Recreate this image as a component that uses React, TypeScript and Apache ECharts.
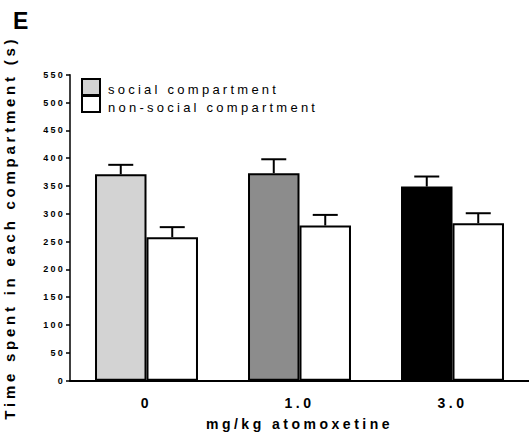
import React, { useEffect, useRef } from "react";
import * as echarts from "echarts";

const categories = ["0", "1.0", "3.0"];
const socialMeans = [371, 373, 349];
const socialSem = [17, 25, 18];
const nonSocialMeans = [258, 279, 283];
const nonSocialSem = [18, 19, 18];
const socialColors = ["#d3d3d3", "#8c8c8c", "#000000"];
const yMin = 0;
const yMax = 550;
const yInterval = 50;

const FONT = "'Liberation Sans', Arial, sans-serif";
const GAP_FRAC = 0.327;
const OFF = (1 - GAP_FRAC) / 4;

function errorSeries(name: string, means: number[], sems: number[], sign: number) {
  return {
    type: "custom",
    name,
    z: 5,
    encode: { x: 0, y: 1 },
    data: means.map((m, i) => [i, m, sems[i]]),
    renderItem: (_params: any, api: any) => {
      const idx = api.value(0);
      const mean = api.value(1);
      const sem = api.value(2);
      const band = api.size([1, 0])[0];
      const base = api.coord([idx, mean]);
      const top = api.coord([idx, mean + sem]);
      const x = base[0] + sign * band * OFF;
      return {
        type: "group",
        children: [
          { type: "line", shape: { x1: x, y1: base[1], x2: x, y2: top[1] }, style: { stroke: "#000", lineWidth: 2 } },
          { type: "line", shape: { x1: x - 12.5, y1: top[1], x2: x + 12.5, y2: top[1] }, style: { stroke: "#000", lineWidth: 2 } },
        ],
      };
    },
  };
}

export default function App() {
  const ref = useRef<HTMLDivElement>(null);
  useEffect(() => {
    if (!ref.current) return;
    const chart = echarts.init(ref.current, undefined, { renderer: "svg" });
    chart.setOption({
      animation: false,
      backgroundColor: "#ffffff",
      textStyle: { fontFamily: FONT },
      grid: { left: 70, right: 0, top: 74.7, bottom: 53.3, containLabel: false, outerBoundsMode: "none" },
      xAxis: {
        type: "category",
        data: categories,
        axisLine: { lineStyle: { color: "#000", width: 2 } },
        axisTick: { show: false },
        axisLabel: { color: "#000", fontSize: 14, fontWeight: "bold", margin: 15 },
        name: "mg/kg atomoxetine",
        nameLocation: "middle",
        nameGap: 36,
        nameTextStyle: { color: "#000", fontSize: 14, fontWeight: "bold" },
      },
      yAxis: {
        type: "value",
        min: yMin,
        max: yMax,
        interval: yInterval,
        splitLine: { show: false },
        axisLine: { show: true, lineStyle: { color: "#000", width: 1.5 } },
        axisTick: { show: true, length: 4, lineStyle: { color: "#000", width: 1.5 } },
        axisLabel: { color: "#000", fontSize: 9, fontWeight: "bold", margin: 5 },
        name: "Time spent in each compartment (s)",
        nameLocation: "middle",
        nameGap: 53,
        nameTextStyle: { color: "#000", fontSize: 15, fontWeight: "bold" },
      },
      series: [
        {
          type: "bar",
          name: "social compartment",
          barGap: "0%",
          barCategoryGap: (GAP_FRAC * 100).toFixed(1) + "%",
          data: socialMeans.map((v, i) => ({ value: v, itemStyle: { color: socialColors[i] } })),
          itemStyle: { borderColor: "#000", borderWidth: 2 },
        },
        {
          type: "bar",
          name: "non-social compartment",
          data: nonSocialMeans,
          itemStyle: { color: "#ffffff", borderColor: "#000", borderWidth: 2 },
        },
        errorSeries("social SEM", socialMeans, socialSem, -1),
        errorSeries("non-social SEM", nonSocialMeans, nonSocialSem, 1),
      ],
      graphic: [
        {
          type: "text",
          left: 13,
          top: 9,
          style: { text: "E", fontSize: 23, fontWeight: "bold", fill: "#000", fontFamily: FONT },
        },
        {
          type: "rect",
          shape: { x: 82, y: 79, width: 18, height: 16 },
          style: { fill: socialColors[0], stroke: "#000", lineWidth: 2 },
        },
        {
          type: "rect",
          shape: { x: 82, y: 96, width: 18, height: 16 },
          style: { fill: "#ffffff", stroke: "#000", lineWidth: 2 },
        },
        {
          type: "text",
          x: 108,
          y: 89,
          style: { text: "social compartment", fontSize: 13, fill: "#000", fontFamily: FONT, verticalAlign: "middle", align: "left" },
        },
        {
          type: "text",
          x: 108,
          y: 107,
          style: { text: "non-social compartment", fontSize: 13, fill: "#000", fontFamily: FONT, verticalAlign: "middle", align: "left" },
        },
      ],
    });
    return () => chart.dispose();
  }, []);
  return (
    <>
      <style>{`#chart text{letter-spacing:0.25em}`}</style>
      <div id="chart" ref={ref} style={{ position: "fixed", left: 0, top: 0, width: 529, height: 434 }} />
    </>
  );
}
